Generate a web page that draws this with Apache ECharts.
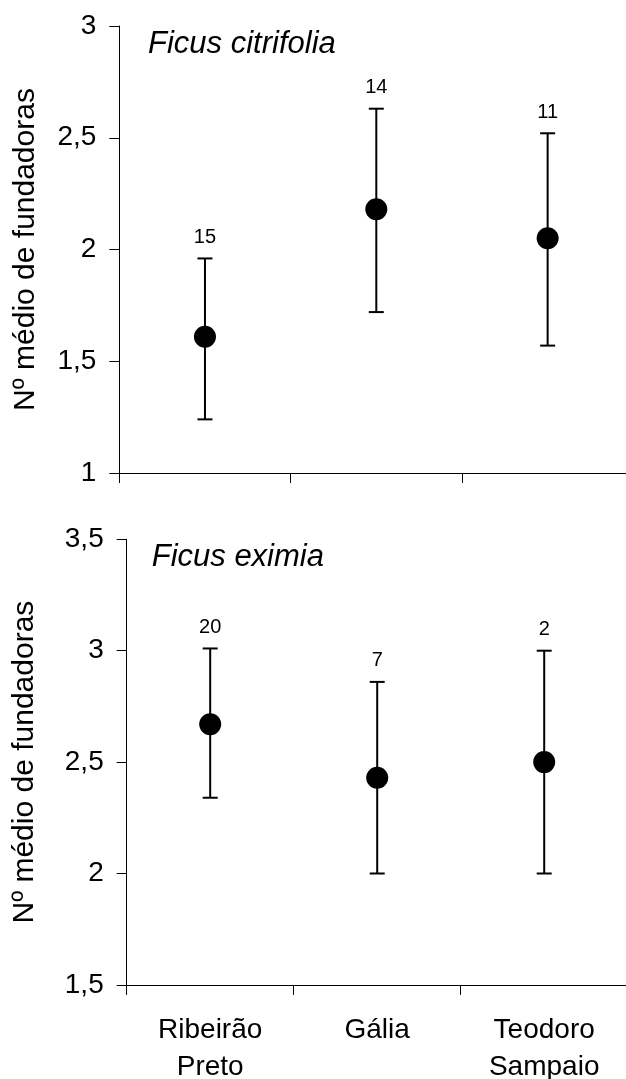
<!DOCTYPE html>
<html>
<head>
<meta charset="utf-8">
<script src="https://cdn.jsdelivr.net/npm/echarts@6/dist/echarts.min.js"></script>
<style>
  html, body { margin: 0; padding: 0; background: #fff; }
  #chart { width: 626px; height: 1079px; }
</style>
</head>
<body>
<div id="chart"></div>
<script>
const categories = ['Ribeirão\nPreto', 'Gália', 'Teodoro\nSampaio']

// Ficus citrifolia (top panel)
const citrifoliaMean = [1.61, 2.18, 2.05]
const citrifoliaLow = [1.24, 1.72, 1.57]
const citrifoliaHigh = [1.96, 2.63, 2.52]
const citrifoliaN = [15, 14, 11]

// Ficus eximia (bottom panel)
const eximiaMean = [2.67, 2.43, 2.50]
const eximiaLow = [2.34, 2.00, 2.00]
const eximiaHigh = [3.01, 2.86, 3.00]
const eximiaN = [20, 7, 2]

const citrifoliaTicks = { min: 1, max: 3, interval: 0.5 }
const eximiaTicks = { min: 1.5, max: 3.5, interval: 0.5 }

const font = 'Arial, "Liberation Sans", sans-serif'
const black = '#000'

const chart = echarts.init(document.getElementById('chart'))

const errorBars = (low, high, n) => categories.map((c, i) => [i, low[i], high[i], n[i]])

const renderError = (params, api) => {
  const top = api.coord([api.value(0), api.value(2)])
  const bot = api.coord([api.value(0), api.value(1)])
  const hw = 7.5
  const style = { stroke: black, lineWidth: 2 }
  return {
    type: 'group',
    children: [
      { type: 'line', shape: { x1: top[0], y1: top[1], x2: bot[0], y2: bot[1] }, style },
      { type: 'line', shape: { x1: top[0] - hw, y1: top[1], x2: top[0] + hw, y2: top[1] }, style },
      { type: 'line', shape: { x1: bot[0] - hw, y1: bot[1], x2: bot[0] + hw, y2: bot[1] }, style },
      {
        type: 'text',
        style: {
          x: top[0], y: top[1] - 21, text: String(api.value(3)),
          fill: black, font: '20px ' + font, align: 'center', verticalAlign: 'middle'
        }
      }
    ]
  }
}

const yAxisOf = (ticks, gridIndex, nameGap) => ({
  type: 'value',
  gridIndex,
  min: ticks.min,
  max: ticks.max,
  interval: ticks.interval,
  name: 'Nº médio de fundadoras',
  nameLocation: 'middle',
  nameRotate: 90,
  nameGap,
  nameTextStyle: { color: black, fontSize: 30, fontFamily: font },
  axisLine: { show: true, lineStyle: { color: black, width: 1 } },
  axisTick: { show: true, length: 10, lineStyle: { color: black, width: 1 } },
  axisLabel: {
    color: black, fontSize: 28, fontFamily: font, margin: 23,
    formatter: v => String(v).replace('.', ',')
  },
  splitLine: { show: false }
})

const xAxisOf = (gridIndex, showLabel) => ({
  type: 'category',
  gridIndex,
  data: categories,
  boundaryGap: true,
  axisLine: { show: true, lineStyle: { color: black, width: 1 } },
  axisTick: { show: true, length: 10, alignWithLabel: false, lineStyle: { color: black, width: 1 } },
  axisLabel: {
    show: showLabel, color: black, fontSize: 28, fontFamily: font,
    lineHeight: 37, margin: 27, interval: 0
  },
  splitLine: { show: false }
})

const option = {
  animation: false,
  backgroundColor: '#fff',
  grid: [
    { left: 119.3, top: 26, width: 514, height: 447, outerBoundsMode: 'none' },
    { left: 126.7, top: 539.3, width: 501, height: 445.6, outerBoundsMode: 'none' }
  ],
  xAxis: [xAxisOf(0, false), xAxisOf(1, true)],
  yAxis: [yAxisOf(citrifoliaTicks, 0, 79), yAxisOf(eximiaTicks, 1, 87)],
  graphic: [
    {
      type: 'text', left: 148, top: 29,
      style: { text: 'Ficus citrifolia', font: 'italic 31px ' + font, fill: black }
    },
    {
      type: 'text', left: 151.7, top: 542,
      style: { text: 'Ficus eximia', font: 'italic 31px ' + font, fill: black }
    }
  ],
  series: [
    {
      type: 'custom', xAxisIndex: 0, yAxisIndex: 0,
      data: errorBars(citrifoliaLow, citrifoliaHigh, citrifoliaN),
      encode: { x: 0, y: [1, 2] },
      renderItem: renderError, z: 2
    },
    {
      type: 'scatter', xAxisIndex: 0, yAxisIndex: 0,
      data: citrifoliaMean, symbol: 'circle', symbolSize: 22,
      itemStyle: { color: black, opacity: 1 }, z: 3
    },
    {
      type: 'custom', xAxisIndex: 1, yAxisIndex: 1,
      data: errorBars(eximiaLow, eximiaHigh, eximiaN),
      encode: { x: 0, y: [1, 2] },
      renderItem: renderError, z: 2
    },
    {
      type: 'scatter', xAxisIndex: 1, yAxisIndex: 1,
      data: eximiaMean, symbol: 'circle', symbolSize: 22,
      itemStyle: { color: black, opacity: 1 }, z: 3
    }
  ]
}

chart.setOption(option)
</script>
</body>
</html>
